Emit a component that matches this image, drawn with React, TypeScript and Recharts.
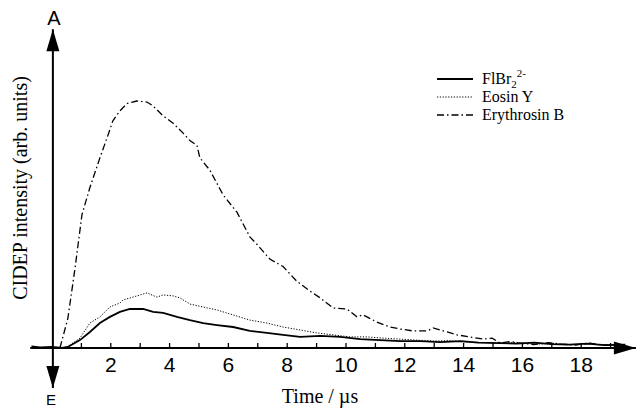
import { LineChart, Line, XAxis, YAxis, ReferenceLine, Legend } from 'recharts';

// time (µs) and intensity (arb. units, Erythrosin peak = 100)
const tFlBr = [-0.7, -0.4, 0, 0.34, 0.54, 0.95, 1.29, 1.63, 1.97, 2.31, 2.65, 3.1, 3.44, 3.78, 4.25, 4.69, 5.14, 5.61, 6.16, 6.73, 7.31, 7.86, 8.44, 9.12, 9.8, 10.48, 11.16, 11.84, 12.52, 13.2, 13.9, 14.5, 15.24, 15.8, 16.4, 17.0, 17.6, 18.2, 18.8, 19.5];
const vFlBr = [0.6, 0.2, 0.4, 0, 0.4, 3.2, 6.5, 10.1, 12.6, 14.6, 15.8, 15.8, 14.6, 14.2, 12.6, 11.3, 10.1, 9.3, 8.5, 6.9, 6.1, 5.3, 4.5, 4.9, 4.5, 3.6, 3.2, 2.8, 2.8, 2.4, 2.8, 2.2, 2.0, 1.8, 2.2, 1.6, 1.4, 1.8, 1.2, 1.4];

const tEosin = [0.34, 0.51, 0.95, 1.29, 1.63, 1.97, 2.31, 2.41, 2.89, 3.23, 3.57, 3.78, 4.12, 4.35, 4.69, 5.14, 5.61, 6.16, 6.73, 7.31, 7.86, 8.44, 9.01, 9.56, 10.14, 10.71, 11.26, 11.84, 12.4, 12.96, 13.5, 14.12, 14.7, 15.24, 15.8, 16.4, 17.0, 17.6, 18.2, 18.8, 19.5];
const vEosin = [0, 0.4, 4.0, 10.1, 12.6, 16.6, 18.2, 19.4, 21.1, 22.3, 20.6, 21.5, 21.1, 20.3, 17.8, 16.6, 15.4, 13.4, 11.3, 10.1, 8.5, 7.3, 6.1, 5.3, 4.5, 4.5, 4.0, 3.6, 3.2, 2.8, 3.0, 2.4, 2.2, 2.0, 2.2, 1.6, 1.8, 1.4, 1.6, 1.2, 1.2];

const tEry = [0.27, 0.54, 0.78, 1.02, 1.29, 1.63, 1.87, 2.07, 2.31, 2.55, 2.89, 3.23, 3.44, 3.78, 4.12, 4.46, 4.69, 4.93, 5.03, 5.37, 5.82, 6.29, 6.73, 6.97, 7.41, 7.86, 8.33, 8.78, 9.12, 9.56, 10.03, 10.37, 10.58, 11.05, 11.5, 11.84, 12.28, 12.76, 12.96, 13.44, 13.78, 14.22, 14.66, 14.97, 15.24, 15.6, 15.9, 16.4, 16.9, 17.3, 17.8, 18.3, 18.6, 19.1, 19.5];
const vEry = [0, 12, 32, 54, 65, 77, 85, 92, 96, 99, 100, 99.6, 98, 94, 91, 87, 84, 82, 77, 72, 62, 55, 45, 42, 36, 33, 27, 23, 20.3, 16.2, 15.8, 12.6, 13.4, 10.5, 8.5, 7.7, 6.9, 6.9, 8.1, 6.5, 5.3, 4.5, 3.6, 4.0, 2.0, 2.6, 2.0, 1.4, 2.2, 1.6, 1.2, 2.0, 1.4, 1.0, 1.2];

const timeTicks = [1, 2, 3, 4, 5, 6, 7, 8, 9, 10, 11, 12, 13, 14, 15, 16, 17, 18, 19];

const series = [
  { key: 'flbr', t: tFlBr, v: vFlBr, dash: undefined, width: 1.8 },
  { key: 'eosin', t: tEosin, v: vEosin, dash: '1.2 1.6', width: 1 },
  { key: 'ery', t: tEry, v: vEry, dash: '7 3 1.5 3', width: 1.3 },
];

const toPoints = (t: number[], v: number[]) => t.map((x, i) => ({ t: x, v: v[i] }));

const serif = '"Liberation Serif", "Times New Roman", serif';
const sans = '"Liberation Sans", Arial, sans-serif';

const TimeTick = (props: any) => {
  const { x, y, payload } = props;
  return (
    <g>
      <line x1={x} x2={x} y1={y - 5} y2={y} stroke="#000" strokeWidth={1.3} />
      {payload.value % 2 === 0 && (
        <text x={x} y={y + 24} textAnchor="middle" fontFamily={sans} fontSize={21} fill="#000">
          {payload.value}
        </text>
      )}
    </g>
  );
};

// axis line with filled arrow heads
const arrowAxis = (both: boolean) => (props: any) => {
  const { x1, y1, x2, y2 } = props;
  const head = (tx: number, ty: number, fx: number, fy: number) => {
    const len = Math.hypot(tx - fx, ty - fy);
    const ux = (tx - fx) / len;
    const uy = (ty - fy) / len;
    const L = 22;
    const W = 6.5;
    const bx = tx - ux * L;
    const by = ty - uy * L;
    return (
      <polygon
        points={`${tx},${ty} ${bx - uy * W},${by + ux * W} ${bx + uy * W},${by - ux * W}`}
        fill="#000"
      />
    );
  };
  return (
    <g>
      <line x1={x1} y1={y1} x2={x2} y2={y2} stroke="#000" strokeWidth={2} />
      {head(x2, y2, x1, y1)}
      {both && head(x1, y1, x2, y2)}
    </g>
  );
};

const LegendBox = () => (
  <div style={{ fontFamily: serif, fontSize: 16, color: '#000' }}>
    {[
      { dash: undefined, w: 1.8, label: <span>FlBr<span style={{ fontSize: 11, position: 'relative', top: 4 }}>2</span><span style={{ fontSize: 11, position: 'relative', top: -7 }}>2-</span></span> },
      { dash: '1.2 1.6', w: 1, label: <span>Eosin Y</span> },
      { dash: '7 3 1.5 3', w: 1.3, label: <span>Erythrosin B</span> },
    ].map((item, i) => (
      <div key={i} style={{ display: 'flex', alignItems: 'center', height: 18, lineHeight: '18px' }}>
        <svg width={45} height={10}>
          <line x1={0} x2={36} y1={5} y2={5} stroke="#000" strokeWidth={item.w} strokeDasharray={item.dash} />
        </svg>
        {item.label}
      </div>
    ))}
  </div>
);

export default function App() {
  return (
    <div style={{ position: 'absolute', left: 0, top: 0, width: 638, height: 411, background: '#fff' }}>
      <LineChart width={638} height={411} margin={{ top: 22, right: 0, bottom: 0, left: 30 }}>
        <XAxis
          type="number"
          dataKey="t"
          domain={[-0.748, 19.932]}
          allowDataOverflow
          ticks={timeTicks}
          interval={0}
          height={63}
          axisLine={false}
          tickLine={false}
          tickSize={0}
          tickMargin={0}
          tick={<TimeTick />}
        />
        <YAxis type="number" dataKey="v" domain={[0, 132]} allowDataOverflow hide />
        <ReferenceLine
          segment={[{ x: -0.74, y: 0 }, { x: 19.86, y: 0 }]}
          ifOverflow="visible"
          shape={arrowAxis(false)}
        />
        <ReferenceLine
          segment={[{ x: 0.03, y: -16.2 }, { x: 0.03, y: 129.1 }]}
          ifOverflow="visible"
          shape={arrowAxis(true)}
        />
        {series.map((s) => (
          <Line
            key={s.key}
            data={toPoints(s.t, s.v)}
            dataKey="v"
            type="linear"
            stroke="#000"
            strokeWidth={s.width}
            strokeDasharray={s.dash}
            dot={false}
            activeDot={false}
            isAnimationActive={false}
          />
        ))}
        <Legend
          layout="horizontal"
          verticalAlign="middle"
          align="center"
          content={<LegendBox />}
          wrapperStyle={{ top: 70, left: 437, width: 200 }}
        />
        <text x={54} y={25} textAnchor="middle" fontFamily={sans} fontSize={20} fill="#000">A</text>
        <text x={51} y={405} textAnchor="middle" fontFamily={sans} fontSize={15} fill="#000">E</text>
        <text
          transform="rotate(-90)"
          x={-188}
          y={27}
          textAnchor="middle"
          fontFamily={serif}
          fontSize={20}
          fill="#000"
        >
          CIDEP intensity (arb. units)
        </text>
        <text x={320} y={403} textAnchor="middle" fontFamily={serif} fontSize={20} fill="#000">
          Time / µs
        </text>
      </LineChart>
    </div>
  );
}
